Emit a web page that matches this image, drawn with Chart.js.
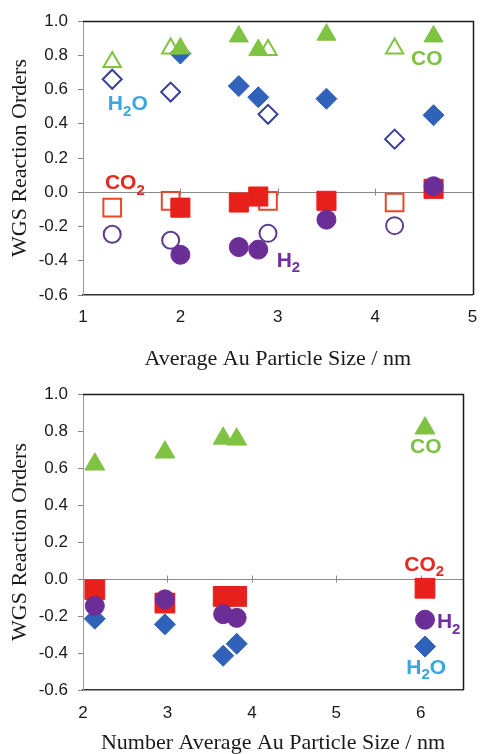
<!DOCTYPE html>
<html>
<head>
<meta charset="utf-8">
<script src="https://cdn.jsdelivr.net/npm/chart.js@4/dist/chart.umd.min.js"></script>
<style>
html,body{margin:0;padding:0;background:#fff;}
#wrap{position:relative;width:487px;height:754px;overflow:hidden;}
#c1{position:absolute;left:0;top:0;}
#c2{position:absolute;left:0;top:370px;}
</style>
</head>
<body>
<div id="wrap">
<canvas id="c1" width="487" height="370"></canvas>
<canvas id="c2" width="487" height="384"></canvas>
</div>
<script>
// ---------- DATA: top chart (Average Au particle size) ----------
const topOpenX   = [1.3, 1.9, 2.9, 4.2];
const topFilledX = [2.0, 2.6, 2.8, 3.5, 4.6];
const topCOFilled  = [0.84, 0.91, 0.83, 0.92, 0.91];
const topCOOpen    = [0.76, 0.84, 0.83, 0.84];
const topH2OFilled = [0.81, 0.62, 0.555, 0.546, 0.45];
const topH2OOpen   = [0.66, 0.585, 0.455, 0.31];
const topCO2Filled = [-0.09, -0.06, -0.025, -0.05, 0.02];
const topCO2Open   = [-0.09, -0.05, -0.05, -0.06];
const topH2Filled  = [-0.365, -0.32, -0.335, -0.16, 0.035];
const topH2Open    = [-0.245, -0.28, -0.24, -0.195];
const topXTicks = [1, 2, 3, 4, 5];

// ---------- DATA: bottom chart (Number average Au particle size) ----------
const botX     = [2.14, 2.97, 3.66, 3.82, 6.05];
const botCO    = [0.62, 0.685, 0.76, 0.755, 0.815];
const botCO2   = [-0.058, -0.13, -0.094, -0.094, -0.05];
const botH2    = [-0.145, -0.11, -0.19, -0.21, -0.22];
const botH2O   = [-0.215, -0.245, -0.415, -0.35, -0.365];
const botXTicks = [2, 3, 4, 5, 6];

const yTicks = [-0.6, -0.4, -0.2, 0.0, 0.2, 0.4, 0.6, 0.8, 1.0];

// Labels: segments [text, isSubscript], anchored at data coordinates
const topLabels = [
  {seg:[['CO',0]], x:4.53, y:0.774, color:'#7cc242'},
  {seg:[['H',0],['2',1],['O',0]], x:1.46, y:0.513, color:'#3ba7df'},
  {seg:[['CO',0],['2',1]], x:1.43, y:0.05, color:'#e8281e'},
  {seg:[['H',0],['2',1]], x:3.11, y:-0.40, color:'#7030a0'}
];
const botLabels = [
  {seg:[['CO',0]], x:6.06, y:0.714, color:'#7cc242'},
  {seg:[['CO',0],['2',1]], x:6.04, y:0.077, color:'#e8281e'},
  {seg:[['H',0],['2',1]], x:6.33, y:-0.236, color:'#7030a0'},
  {seg:[['H',0],['2',1],['O',0]], x:6.065, y:-0.48, color:'#3ba7df'}
];

// ---------- STYLE ----------
const GREEN = '#80c342', BLUE = '#2f62b8', BLUE_OPEN = '#3b3f9c',
      RED = '#e8201c', RED_OPEN = '#e8482a', PURPLE = '#6b2d96', PURPLE_OPEN = '#5a3d8c';

const pts = (xs, ys) => xs.map((x, i) => ({x, y: ys[i]}));

function ds(label, data, style, color, filled, r, order) {
  return {
    label, data, order,
    pointStyle: style,
    pointRadius: r, pointHoverRadius: r,
    pointBackgroundColor: filled ? color : 'rgba(255,255,255,0)',
    pointBorderColor: color,
    pointBorderWidth: filled ? 1 : 2,
    showLine: false
  };
}

const labelPlugin = {
  id: 'labels',
  afterDatasetsDraw(chart, args, opts) {
    const ctx = chart.ctx, xs = chart.scales.x, ys = chart.scales.y;
    const mainF = 'bold 21px "Liberation Sans", Arial, sans-serif';
    const subF = 'bold 15px "Liberation Sans", Arial, sans-serif';
    ctx.save();
    ctx.textBaseline = 'middle';
    ctx.textAlign = 'left';
    for (const L of opts.items) {
      let w = 0;
      for (const [t, s] of L.seg) { ctx.font = s ? subF : mainF; w += ctx.measureText(t).width; }
      let px = xs.getPixelForValue(L.x) - w / 2;
      const py = ys.getPixelForValue(L.y);
      ctx.fillStyle = L.color;
      for (const [t, s] of L.seg) {
        ctx.font = s ? subF : mainF;
        ctx.fillText(t, px, s ? py + 7 : py);
        px += ctx.measureText(t).width;
      }
    }
    ctx.restore();
  }
};

const framePlugin = {
  id: 'frame',
  beforeDatasetsDraw(chart) {
    const ctx = chart.ctx, a = chart.chartArea, xs = chart.scales.x, ys = chart.scales.y;
    const y0 = Math.round(ys.getPixelForValue(0)) + 0.5;
    ctx.save();
    ctx.strokeStyle = '#8a8a8a';
    ctx.lineWidth = 1;
    ctx.beginPath();
    for (const t of xs.ticks) {
      const px = Math.round(xs.getPixelForValue(t.value)) + 0.5;
      if (px <= a.left + 1 || px >= a.right - 1) continue;
      ctx.moveTo(px, y0 - 4); ctx.lineTo(px, y0 + 3);
    }
    ctx.stroke();
    ctx.restore();
  },
  afterDraw(chart) {
    const ctx = chart.ctx, a = chart.chartArea;
    ctx.save();
    ctx.strokeStyle = '#1a1a1a';
    ctx.lineWidth = 1.5;
    ctx.beginPath();
    ctx.moveTo(a.left, Math.round(a.top) + 0.5);
    ctx.lineTo(Math.round(a.right) + 0.5, Math.round(a.top) + 0.5);
    ctx.lineTo(Math.round(a.right) + 0.5, a.bottom);
    ctx.stroke();
    ctx.restore();
  }
};

function makeOptions(xMin, xMax, xTicks, xTitle, pad, xBoxH, xTickPad, labels) {
  return {
    responsive: false,
    animation: false,
    events: [],
    layout: {padding: pad},
    plugins: {legend: {display: false}, tooltip: {enabled: false}, labels: {items: labels}},
    scales: {
      x: {
        type: 'linear', min: xMin, max: xMax,
        afterBuildTicks: s => { s.ticks = xTicks.map(v => ({value: v})); },
        afterFit: s => { s.height = xBoxH; s.paddingLeft = 0; s.paddingRight = 0; },
        grid: {display: false, drawTicks: false},
        border: {display: true, color: '#333', width: 1.5},
        ticks: {
          padding: xTickPad, color: '#1a1a1a', maxRotation: 0, autoSkip: false,
          font: {family: '"Liberation Sans", Arial, sans-serif', size: 17},
          callback: v => String(v)
        },
        title: {
          display: true, text: xTitle, color: '#1a1a1a',
          font: {family: '"Liberation Serif", "Times New Roman", serif', size: 22, lineHeight: 1},
          padding: {top: 0, bottom: 0}
        }
      },
      y: {
        type: 'linear', min: -0.6, max: 1.0,
        afterBuildTicks: s => { s.ticks = yTicks.map(v => ({value: v})); },
        afterFit: s => { s.width = 83; s.paddingTop = 0; s.paddingBottom = 0; },
        grid: {
          drawTicks: true, tickLength: 5, tickColor: '#888', tickWidth: 1,
          color: c => (c.tick && Math.abs(c.tick.value) < 1e-9) ? '#8a8a8a' : 'rgba(0,0,0,0)',
          lineWidth: 1
        },
        border: {display: true, color: '#999', width: 1},
        ticks: {
          padding: 10, color: '#1a1a1a', autoSkip: false,
          font: {family: '"Liberation Sans", Arial, sans-serif', size: 17},
          callback: v => (Math.abs(v) < 1e-9 ? 0 : v).toFixed(1)
        },
        title: {
          display: true, text: 'WGS Reaction Orders', color: '#1a1a1a',
          font: {family: '"Liberation Serif", "Times New Roman", serif', size: 22, lineHeight: 1},
          padding: {top: 9, bottom: 0}
        }
      }
    }
  };
}

new Chart(document.getElementById('c1'), {
  type: 'scatter',
  data: {
    datasets: [
      ds('H2O', pts(topFilledX, topH2OFilled), 'rectRot', BLUE, true, 10.5, 5),
      ds('H2O open', pts(topOpenX, topH2OOpen), 'rectRot', BLUE_OPEN, false, 9.5, 6),
      ds('CO2', pts(topFilledX, topCO2Filled), 'rect', RED, true, 13.5, 3),
      ds('CO2 open', pts(topOpenX, topCO2Open), 'rect', RED_OPEN, false, 12.5, 4),
      ds('H2', pts(topFilledX, topH2Filled), 'circle', PURPLE, true, 9.5, 1),
      ds('H2 open', pts(topOpenX, topH2Open), 'circle', PURPLE_OPEN, false, 8.5, 2),
      ds('CO', pts(topFilledX, topCOFilled), 'triangle', GREEN, true, 11, 0),
      ds('CO open', pts(topOpenX, topCOOpen), 'triangle', GREEN, false, 10, 0)
    ]
  },
  options: makeOptions(1, 5, topXTicks, 'Average Au Particle Size / nm',
    {left: 0, top: 21, right: 5, bottom: 0}, 75, 12, topLabels),
  plugins: [framePlugin, labelPlugin]
});

new Chart(document.getElementById('c2'), {
  type: 'scatter',
  data: {
    datasets: [
      ds('H2O', pts(botX, botH2O), 'rectRot', BLUE, true, 10.5, 4),
      ds('CO2', pts(botX, botCO2), 'rect', RED, true, 14, 3),
      ds('H2', pts(botX, botH2), 'circle', PURPLE, true, 9.5, 2),
      ds('CO', pts(botX, botCO), 'triangle', GREEN, true, 11.5, 1)
    ]
  },
  options: makeOptions(2, 6.5, botXTicks, 'Number Average Au Particle Size / nm',
    {left: 0, top: 24, right: 24, bottom: 0}, 64, 13, botLabels),
  plugins: [framePlugin, labelPlugin]
});
</script>
</body>
</html>
